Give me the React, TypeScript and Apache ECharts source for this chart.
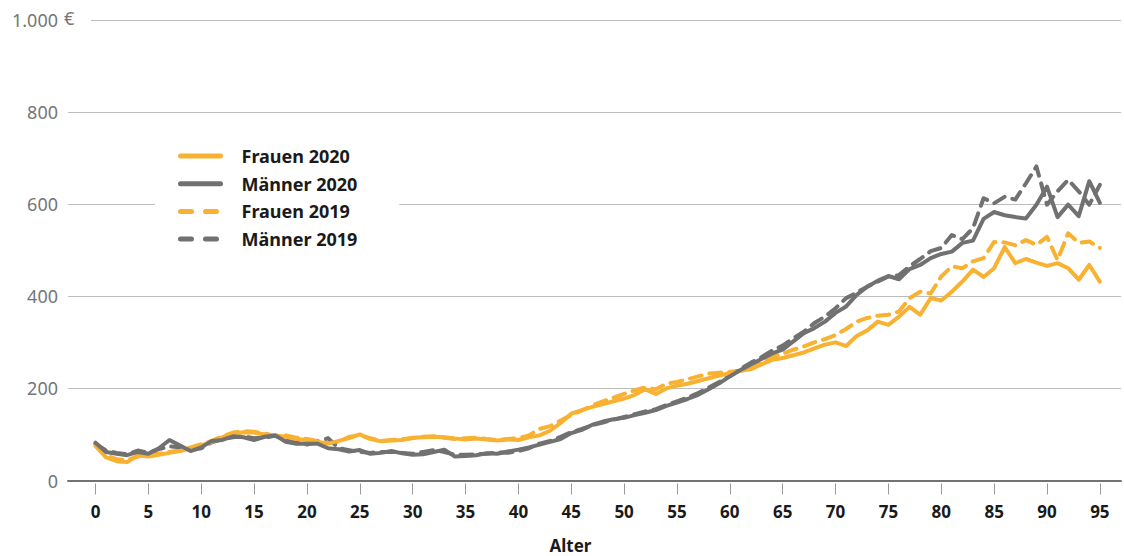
import * as echarts from 'echarts';
import { useEffect, useRef } from 'react';

const FONT = '"Noto Sans", "DejaVu Sans", sans-serif';

const ages = [
  0, 1, 2, 3, 4, 5, 6, 7, 8, 9, 10, 11, 12, 13, 14, 15, 16, 17, 18, 19,
  20, 21, 22, 23, 24, 25, 26, 27, 28, 29, 30, 31, 32, 33, 34, 35, 36, 37, 38, 39,
  40, 41, 42, 43, 44, 45, 46, 47, 48, 49, 50, 51, 52, 53, 54, 55, 56, 57, 58, 59,
  60, 61, 62, 63, 64, 65, 66, 67, 68, 69, 70, 71, 72, 73, 74, 75, 76, 77, 78, 79,
  80, 81, 82, 83, 84, 85, 86, 87, 88, 89, 90, 91, 92, 93, 94, 95,
];

const tickAges = [0, 5, 10, 15, 20, 25, 30, 35, 40, 45, 50, 55, 60, 65, 70, 75, 80, 85, 90, 95];

const frauen2020 = [
  75, 50, 42, 40, 55, 52, 56, 60, 64, 70,
  76, 84, 94, 102, 105, 104, 100, 98, 95, 90,
  88, 84, 80, 86, 92, 100, 90, 85, 87, 88,
  93, 94, 95, 94, 91, 89, 91, 89, 87, 89,
  88, 94, 98, 108, 125, 145, 153, 160, 166, 172,
  178, 186, 198, 188, 200, 206, 210, 216, 222, 228,
  233, 238, 242, 252, 262, 266, 272, 278, 287, 295,
  300, 292, 314, 326, 345, 338, 356, 377, 360, 396,
  391, 410, 432, 458, 442, 461, 507, 472, 481, 473,
  466, 472, 461, 436, 468, 432,
];

const maenner2020 = [
  82, 62, 58, 55, 62, 58, 70, 88, 76, 64,
  72, 86, 88, 96, 94, 88, 95, 98, 84, 80,
  80, 80, 70, 68, 63, 66, 58, 60, 64, 59,
  56, 57, 62, 67, 52, 53, 55, 59, 58, 63,
  67, 72, 78, 84, 90, 103, 110, 121, 128, 133,
  136, 142, 147, 153, 162, 169, 177, 186, 198, 211,
  226, 240, 252, 264, 276, 284, 302, 320, 331, 345,
  364, 378, 403, 421, 434, 444, 437, 459, 468, 483,
  492, 497, 516, 521, 568, 583, 576, 572, 569, 599,
  638, 572, 599, 574, 650, 603,
];

const frauen2019 = [
  78, 55, 46, 44, 52, 56, 58, 62, 66, 72,
  79, 86, 96, 104, 107, 106, 102, 97, 98, 93,
  90, 86, 82, 84, 95, 98, 92, 86, 88, 90,
  92, 95, 96, 93, 90, 92, 93, 90, 88, 90,
  92, 98, 112, 118, 130, 142, 152, 163, 172, 180,
  188, 196, 202, 198, 210, 214, 220, 226, 232, 234,
  236, 238, 242, 255, 268, 275, 284, 291, 300, 307,
  316, 329, 345, 353, 358, 360, 367, 396, 410, 406,
  443, 465, 461, 476, 483, 518, 517, 511, 522, 512,
  529, 479, 537, 516, 519, 505,
];

const maenner2019 = [
  80, 65, 60, 57, 65, 60, 68, 74, 72, 66,
  70, 83, 90, 94, 96, 92, 93, 97, 88, 82,
  78, 84, 92, 70, 66, 62, 60, 62, 62, 60,
  58, 62, 66, 62, 56, 56, 57, 58, 61, 60,
  64, 70, 80, 86, 95, 105, 112, 120, 126, 132,
  138, 144, 150, 155, 164, 172, 180, 190, 202, 214,
  228, 242, 256, 268, 282, 293, 309, 323, 342, 356,
  374, 396, 408, 421, 432, 443, 446, 465, 481, 498,
  505, 533, 524, 548, 613, 602, 616, 610, 645, 682,
  599, 628, 653, 628, 599, 642,
];

const ORANGE = '#F9B131';
const GREY = '#717171';

const seriesDefs = [
  { name: 'Frauen 2019', values: frauen2019, color: ORANGE, dashed: true },
  { name: 'Männer 2019', values: maenner2019, color: GREY, dashed: true },
  { name: 'Frauen 2020', values: frauen2020, color: ORANGE, dashed: false },
  { name: 'Männer 2020', values: maenner2020, color: GREY, dashed: false },
];

const legendOrder = [
  { name: 'Frauen 2020', dashed: false },
  { name: 'Männer 2020', dashed: false },
  { name: 'Frauen 2019', dashed: true },
  { name: 'Männer 2019', dashed: true },
];

export default function App() {
  const ref = useRef<HTMLDivElement>(null);

  useEffect(() => {
    document.body.style.margin = '0';
    if (!ref.current) return;
    const chart = echarts.init(ref.current, null, { renderer: 'svg' });

    const option: any = {
      animation: false,
      grid: { left: 68, right: 3, top: 20, bottom: 75.5, containLabel: false, outerBoundsMode: 'none' },
      legend: {
        data: legendOrder.map((l) => ({
          name: l.name,
          lineStyle: {
            width: 5,
            cap: 'round',
            type: l.dashed ? [11, 14] : 'solid',
          },
        })),
        orient: 'vertical',
        left: 155,
        top: 139,
        backgroundColor: '#ffffff',
        padding: [8, 42, 8, 23],
        itemWidth: 40,
        itemHeight: 18,
        itemGap: 9.7,
        selectedMode: false,
        itemStyle: { opacity: 0 },
        lineStyle: { width: 5, cap: 'round' },
        textStyle: {
          fontFamily: FONT,
          fontSize: 18,
          fontWeight: 'bold',
          color: '#1a1a1a',
          padding: [0, 0, 0, 16],
        },
      },
      xAxis: [
        {
          type: 'value',
          min: -2.6,
          max: 97,
          axisLine: { show: true, lineStyle: { color: '#737373', width: 2 } },
          axisTick: { show: false },
          splitLine: { show: false },
          axisLabel: {
            customValues: tickAges,
            formatter: (v: number) => String(v),
            margin: 22,
            fontFamily: FONT,
            fontSize: 17,
            fontWeight: 'bold',
            color: '#1a1a1a',
          },
          name: 'Alter',
          nameLocation: 'middle',
          nameGap: 56,
          nameTextStyle: {
            fontFamily: FONT,
            fontSize: 17,
            fontWeight: 'bold',
            color: '#1a1a1a',
            padding: [0, 48, 0, 0],
          },
        },
        {
          type: 'value',
          min: -2.6,
          max: 97,
          position: 'bottom',
          offset: 3,
          axisLine: { show: false },
          axisTick: { show: true, customValues: tickAges, length: 11, lineStyle: { color: '#9a9a9a', width: 1 } },
          axisLabel: { show: false },
          splitLine: { show: false },
        },
      ],
      yAxis: {
        type: 'value',
        min: 0,
        max: 1000,
        interval: 200,
        axisLine: { show: false },
        axisTick: { show: false },
        splitLine: { show: true, lineStyle: { color: '#bdbdbd', width: 1 } },
        axisLabel: {
          margin: 10,
          formatter: (v: number) => (v === 1000 ? '1.000' : String(v)),
          fontFamily: FONT,
          fontSize: 18,
          color: '#767676',
        },
      },
      graphic: [
        {
          type: 'rect',
          left: 66,
          top: 17,
          shape: { width: 25, height: 6 },
          style: { fill: '#ffffff' },
          z: 100,
        },
        {
          type: 'text',
          left: 64,
          top: 9,
          style: { text: '€', font: `18px ${FONT}`, fill: '#767676' },
          z: 101,
        },
      ],
      series: seriesDefs.map((s) => ({
        name: s.name,
        type: 'line',
        xAxisIndex: 0,
        symbol: 'none',
        silent: true,
        data: ages.map((a, i) => [a, s.values[i]]),
        itemStyle: { color: s.color },
        lineStyle: {
          color: s.color,
          width: 4,
          type: s.dashed ? [12, 8] : 'solid',
          cap: 'round',
          join: 'round',
        },
      })),
    };

    chart.setOption(option);
    return () => {
      chart.dispose();
    };
  }, []);

  return <div ref={ref} style={{ width: 1124, height: 556 }} />;
}
